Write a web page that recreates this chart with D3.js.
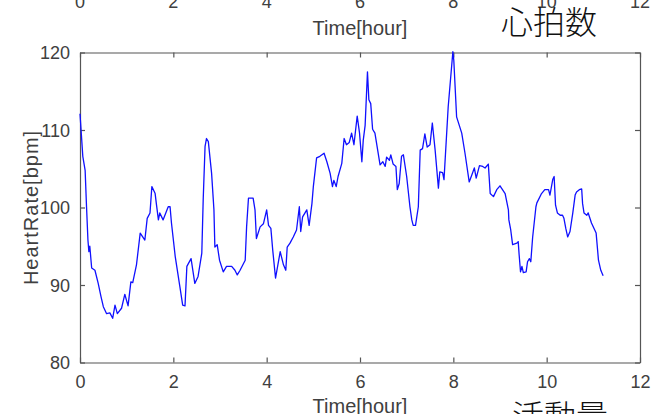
<!DOCTYPE html>
<html>
<head>
<meta charset="utf-8">
<script src="https://cdn.jsdelivr.net/npm/d3@7"></script>
<style>
  body { margin: 0; background: #fff; }
  svg text { font-family: "Liberation Sans", Arial, sans-serif; fill: #404040; }
  .cjk { font-family: "Noto Sans CJK JP", sans-serif; font-weight: 300; fill: #111; }
</style>
</head>
<body>
<div id="root"></div>
<script>
// hours
var hours = [0.00, 0.06, 0.11, 0.14, 0.17, 0.19, 0.21, 0.25, 0.32, 0.39, 0.45, 0.50, 0.57, 0.64, 0.70, 0.75, 0.80, 0.89, 0.96, 1.03,
    1.09, 1.13, 1.21, 1.29, 1.39, 1.44, 1.50, 1.54, 1.61, 1.64, 1.68, 1.71, 1.78, 1.89, 1.93, 1.96, 2.04, 2.14, 2.20, 2.25,
    2.29, 2.38, 2.46, 2.53, 2.61, 2.64, 2.68, 2.71, 2.75, 2.82, 2.87, 2.89, 2.94, 2.99, 3.07, 3.14, 3.25, 3.32, 3.37, 3.43,
    3.54, 3.57, 3.61, 3.71, 3.75, 3.78, 3.86, 3.93, 4.00, 4.04, 4.09, 4.13, 4.19, 4.29, 4.36, 4.41, 4.44, 4.50, 4.57, 4.64,
    4.70, 4.73, 4.77, 4.86, 4.91, 4.97, 5.00, 5.07, 5.14, 5.23, 5.29, 5.36, 5.41, 5.44, 5.49, 5.53, 5.61, 5.66, 5.71, 5.77,
    5.82, 5.87, 5.94, 5.99, 6.04, 6.07, 6.11, 6.16, 6.19, 6.23, 6.27, 6.32, 6.43, 6.49, 6.54, 6.57, 6.63, 6.66, 6.71, 6.77,
    6.80, 6.84, 6.89, 6.93, 7.00, 7.07, 7.11, 7.14, 7.19, 7.25, 7.29, 7.34, 7.39, 7.44, 7.50, 7.55, 7.61, 7.68, 7.71, 7.77,
    7.80, 7.89, 7.99, 8.01, 8.07, 8.18, 8.25, 8.34, 8.39, 8.45, 8.49, 8.56, 8.63, 8.68, 8.75, 8.79, 8.86, 8.93, 9.00, 9.11,
    9.18, 9.19, 9.23, 9.27, 9.36, 9.39, 9.41, 9.44, 9.47, 9.50, 9.56, 9.59, 9.63, 9.66, 9.70, 9.77, 9.79, 9.89, 9.96, 10.04,
    10.07, 10.13, 10.16, 10.19, 10.23, 10.29, 10.34, 10.37, 10.41, 10.45, 10.50, 10.56, 10.61, 10.64, 10.70, 10.75, 10.77, 10.80, 10.86, 10.89,
    10.96, 11.06, 11.11, 11.16, 11.21]
// bpm
var heartRate = [112.1, 106.6, 104.8, 100.1, 95.8, 94.3, 95.0, 92.2, 91.9, 90.2, 88.5, 87.2, 86.3, 86.4, 85.7, 87.4, 86.3, 87.0, 88.8, 87.3,
    90.4, 90.3, 92.6, 96.7, 95.8, 98.6, 99.3, 102.7, 101.8, 100.3, 98.4, 99.3, 98.4, 100.1, 100.1, 98.0, 93.7, 89.8, 87.4, 87.3,
    92.4, 93.4, 90.2, 91.1, 94.1, 101.0, 107.9, 108.9, 108.5, 104.4, 99.7, 94.9, 95.2, 93.2, 91.7, 92.4, 92.4, 91.9, 91.3, 91.9,
    93.2, 97.5, 101.2, 101.2, 99.7, 96.0, 97.5, 97.9, 99.7, 97.7, 97.3, 94.5, 90.9, 94.3, 92.6, 91.9, 94.9, 95.4, 96.2, 97.1,
    100.1, 96.9, 98.8, 99.7, 97.7, 100.5, 102.7, 106.4, 106.6, 107.0, 105.9, 104.4, 102.7, 103.5, 102.7, 104.0, 105.7, 108.9, 108.1, 108.4,
    109.6, 108.1, 111.8, 109.6, 105.9, 108.7, 110.6, 117.5, 113.9, 113.4, 110.1, 109.6, 105.5, 105.9, 105.3, 106.5, 106.1, 106.8, 105.6, 105.3,
    102.3, 103.1, 106.6, 106.8, 104.0, 100.1, 98.4, 97.7, 97.7, 100.1, 107.4, 107.6, 109.5, 107.8, 108.1, 110.9, 107.4, 102.5, 104.6, 104.5,
    103.6, 113.0, 120.1, 119.0, 111.7, 109.6, 107.0, 103.3, 104.1, 105.1, 103.8, 105.4, 105.3, 105.1, 105.6, 101.8, 101.4, 102.3, 102.8, 101.8,
    99.7, 98.4, 97.1, 95.2, 95.4, 95.6, 93.9, 91.7, 92.4, 91.6, 91.7, 93.0, 93.4, 93.0, 96.2, 100.1, 100.6, 101.8, 102.3, 102.3,
    101.6, 103.6, 104.0, 100.3, 99.3, 99.0, 99.0, 98.6, 97.3, 96.2, 96.9, 99.3, 101.6, 102.0, 102.3, 102.4, 100.5, 99.3, 99.0, 99.3,
    98.0, 96.7, 93.2, 91.9, 91.2]

var xTicks = [0, 2, 4, 6, 8, 10, 12]
var yTicks = [80, 90, 100, 110, 120]

var width = 666
var height = 414
var svg = d3.select('#root').append('svg')
    .attr('width', width)
    .attr('height', height)

var X = d3.scaleLinear().domain([0, 12]).range([80, 640])
var Y = d3.scaleLinear().domain([80, 120]).range([362.5, 52.5])
var axisColor = '#555'

// 上のグラフの名残 (切れている軸ラベル)
svg.append('g').selectAll('text')
    .data(xTicks).enter().append('text')
    .attr('x', function (d) { return X(d) })
    .attr('y', 8)
    .attr('text-anchor', 'middle')
    .style('font-size', '18px')
    .text(function (d) { return d })
svg.append('text')
    .attr('x', X(6))
    .attr('y', 35)
    .attr('text-anchor', 'middle')
    .style('font-size', '20px')
    .text('Time[hour]')
svg.append('text')
    .attr('class', 'cjk')
    .attr('x', 501)
    .attr('y', 34)
    .style('font-size', '32px')
    .text('心拍数')

// 軸
var axisB = svg.append('g').attr('transform', 'translate(0,' + Y(80) + ')')
    .call(d3.axisBottom(X).tickValues(xTicks).tickSizeInner(-5).tickSizeOuter(0).tickPadding(13))
var axisT = svg.append('g').attr('transform', 'translate(0,' + Y(120) + ')')
    .call(d3.axisTop(X).tickValues(xTicks).tickSizeInner(-5).tickSizeOuter(0).tickFormat(''))
var axisL = svg.append('g').attr('transform', 'translate(' + X(0) + ',0)')
    .call(d3.axisLeft(Y).tickValues(yTicks).tickSizeInner(-5).tickSizeOuter(0).tickPadding(10))
var axisR = svg.append('g').attr('transform', 'translate(' + X(12) + ',0)')
    .call(d3.axisRight(Y).tickValues(yTicks).tickSizeInner(-5).tickSizeOuter(0).tickFormat(''))
;[axisB, axisT, axisL, axisR].forEach(function (g) {
    g.selectAll('path, line').attr('stroke', axisColor).attr('stroke-width', 1.2)
    g.selectAll('text').attr('fill', '#404040').style('font-size', '18px')
        .style('font-family', '"Liberation Sans", Arial, sans-serif')
})
axisL.selectAll('text').attr('dy', '0.36em')

// 心拍の線
var pts = hours.map(function (h, i) { return [h, heartRate[i]] })
svg.append('path')
    .datum(pts)
    .attr('fill', 'none')
    .attr('stroke', '#1010ff')
    .attr('stroke-width', 1.3)
    .attr('stroke-linejoin', 'round')
    .attr('d', d3.line().x(function (d) { return X(d[0]) }).y(function (d) { return Y(d[1]) }))

// 軸ラベル
svg.append('text')
    .attr('transform', 'translate(38,' + Y(100) + ') rotate(-90)')
    .attr('text-anchor', 'middle')
    .style('font-size', '20px')
    .style('letter-spacing', '1px')
    .text('HeartRate[bpm]')
svg.append('text')
    .attr('x', X(6))
    .attr('y', 413)
    .attr('text-anchor', 'middle')
    .style('font-size', '20px')
    .text('Time[hour]')
svg.append('text')
    .attr('class', 'cjk')
    .attr('x', 512)
    .attr('y', 428)
    .style('font-size', '32px')
    .text('活動量')
</script>
</body>
</html>
